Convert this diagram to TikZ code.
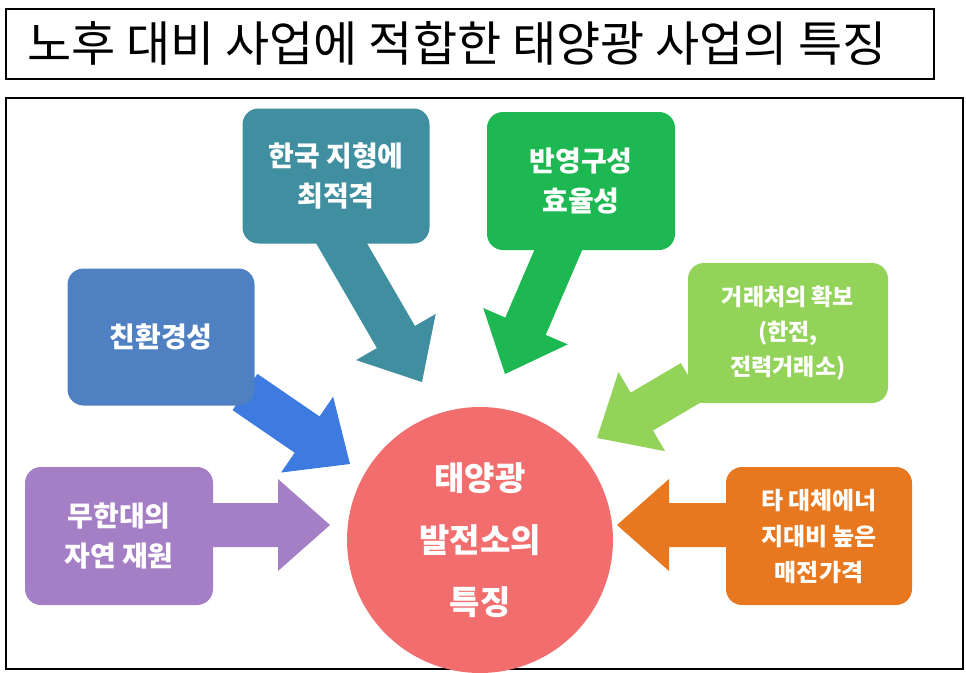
\documentclass[tikz,border=0pt]{standalone}
\usepackage{fontspec}
\newfontfamily\kr{Noto Sans CJK KR}
\usetikzlibrary{calc}
\definecolor{cteal}{HTML}{3F8FA0}
\definecolor{cgreen}{HTML}{1EB852}
\definecolor{cblue}{HTML}{4F80C2}
\definecolor{clgreen}{HTML}{94D35A}
\definecolor{cpurple}{HTML}{A47FC6}
\definecolor{corange}{HTML}{E8781F}
\definecolor{ccircle}{HTML}{F26E6E}
\definecolor{cblueA}{HTML}{3E7BE0}
\tikzset{
 box/.style={rounded corners=16pt, align=center, text=white, font=\kr\bfseries\fontsize{28}{40}\selectfont, inner sep=0pt},
}
\newcommand\blockarrow[3]{%
 \path let \p1=(#1),\p2=(#2),\n1={atan2(\y2-\y1,\x2-\x1)},\n2={veclen(\x2-\x1,\y2-\y1)} in
 [fill=#3, shift={(\p1)}, rotate=\n1]
 (0pt,-22pt)--(\n2-52pt,-22pt)--(\n2-52pt,-46pt)--(\n2,0pt)--(\n2-52pt,46pt)--(\n2-52pt,22pt)--(0pt,22pt)--cycle;}
\begin{document}
\begin{tikzpicture}[x=1pt,y=-1pt]
\useasboundingbox (0,0) rectangle (966,672);
\fill[white] (0,0) rectangle (966,672);
\node[draw=black, line width=1.5pt, minimum width=928pt, minimum height=70pt, anchor=north west, inner sep=0pt] (title) at (5,8) {};
\node[anchor=west, font=\kr\fontsize{48}{52}\selectfont] (ttext) at (24,43) {노후 대비 사업에 적합한 태양광 사업의 특징};
\node[draw=black, line width=1.5pt, minimum width=957pt, minimum height=571pt, anchor=north west, inner sep=0pt] (frame) at (5,97) {};
\coordinate (a1s) at (335,232); \coordinate (a1e) at (422,382);
\coordinate (a2s) at (566,232); \coordinate (a2e) at (505,374);
\coordinate (a3s) at (245,392); \coordinate (a3e) at (350,464);
\coordinate (a4s) at (692,382); \coordinate (a4e) at (597,438);
\coordinate (a5s) at (210,525); \coordinate (a5e) at (330,525);
\coordinate (a6s) at (728,525); \coordinate (a6e) at (617,525);
\blockarrow{a1s}{a1e}{cteal}
\blockarrow{a2s}{a2e}{cgreen}
\blockarrow{a3s}{a3e}{cblueA}
\blockarrow{a4s}{a4e}{clgreen}
\blockarrow{a5s}{a5e}{cpurple}
\blockarrow{a6s}{a6e}{corange}
\node[box, fill=cteal, minimum width=187pt, minimum height=135pt] (b1) at (336,176) {한국 지형에\\최적격};
\node[box, fill=cgreen, minimum width=188pt, minimum height=138pt] (b2) at (581,181) {반영구성\\효율성};
\node[box, fill=cblue, minimum width=187pt, minimum height=137pt] (b3) at (161,337) {친환경성};
\node[box, fill=clgreen, minimum width=200pt, minimum height=140pt, font=\kr\bfseries\fontsize{23}{35}\selectfont] (b4) at (788,333) {거래처의 확보\\(한전,\\전력거래소)};
\node[box, fill=cpurple, minimum width=188pt, minimum height=138pt] (b5) at (119,536) {무한대의\\자연 재원};
\node[box, fill=corange, minimum width=186pt, minimum height=138pt, font=\kr\bfseries\fontsize{24}{36}\selectfont] (b6) at (819,536) {타 대체에너\\지대비 높은\\매전가격};
\node[circle, fill=ccircle, minimum size=266pt, align=center, text=white, font=\kr\bfseries\fontsize{33}{62}\selectfont, inner sep=0pt] (c) at (480,540) {태양광\\발전소의\\특징};
\end{tikzpicture}
\end{document}
